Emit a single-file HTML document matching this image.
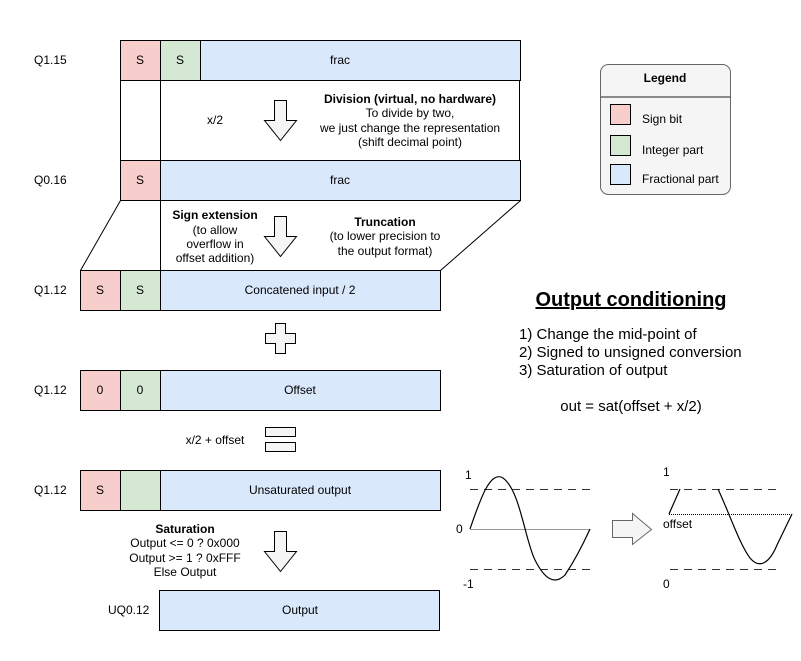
<!DOCTYPE html>
<html><head><style>body{margin:0;background:#fff}svg{display:block}text{font-family:"Liberation Sans",sans-serif;fill:#000}</style></head>
<body>
<svg width="801" height="661" viewBox="0 0 801 661" xmlns="http://www.w3.org/2000/svg" font-size="12">
<g stroke="#000" stroke-width="1">
<rect x="120.5" y="40.5" width="40" height="40" fill="#f8cecc"/>
<rect x="160.5" y="40.5" width="40" height="40" fill="#d5e8d4"/>
<rect x="200.5" y="40.5" width="320" height="40" fill="#dae8fc"/>
<path d="M120.5 80.5V160.5M160.5 80.5V160.5M519.5 80.5V160.5" fill="none"/>
<rect x="120.5" y="160.5" width="40" height="40" fill="#f8cecc"/>
<rect x="160.5" y="160.5" width="360" height="40" fill="#dae8fc"/>
<path d="M120.5 200.5L80.5 270.5M520.5 200.5L440.5 270.5M160.5 200.5V270.5" fill="none"/>
<rect x="80.5" y="270.5" width="40" height="40" fill="#f8cecc"/>
<rect x="120.5" y="270.5" width="40" height="40" fill="#d5e8d4"/>
<rect x="160.5" y="270.5" width="280" height="40" fill="#dae8fc"/>
<rect x="80.5" y="370.5" width="40" height="40" fill="#f8cecc"/>
<rect x="120.5" y="370.5" width="40" height="40" fill="#d5e8d4"/>
<rect x="160.5" y="370.5" width="280" height="40" fill="#dae8fc"/>
<rect x="80.5" y="470.5" width="40" height="40" fill="#f8cecc"/>
<rect x="120.5" y="470.5" width="40" height="40" fill="#d5e8d4"/>
<rect x="160.5" y="470.5" width="280" height="40" fill="#dae8fc"/>
<rect x="159.5" y="590.5" width="280" height="40" fill="#dae8fc"/>
<path d="M274.5 100.5H286.5V120.5H296.5L280.5 140.5L264.5 120.5H274.5Z" fill="#f5f5f5"/>
<path d="M274.5 216.5H286.5V236.5H296.5L280.5 256.5L264.5 236.5H274.5Z" fill="#f5f5f5"/>
<path d="M274.5 531.5H286.5V551.5H296.5L280.5 571.5L264.5 551.5H274.5Z" fill="#f5f5f5"/>
<path d="M275.5 323.5H285.5V333.5H295.5V343.5H285.5V353.5H275.5V343.5H265.5V333.5H275.5Z" fill="#f5f5f5"/>
<rect x="265.5" y="427.5" width="30" height="9" fill="#f5f5f5"/>
<rect x="265.5" y="442.5" width="30" height="9" fill="#f5f5f5"/>
<path d="M612.5 520.5H632.5V513.5L651.5 529.5L632.5 544.5V537.5H612.5Z" fill="#f5f5f5" stroke="#666"/>
<rect x="600.5" y="64.5" width="130" height="130" rx="8" fill="#f5f5f5" stroke="#666"/>
<path d="M600.5 97H730.5" stroke="#666" stroke-width="1.5"/>
<rect x="610.5" y="104.5" width="20" height="20" fill="#f8cecc"/>
<rect x="610.5" y="135.5" width="20" height="20" fill="#d5e8d4"/>
<rect x="610.5" y="164.5" width="20" height="20" fill="#dae8fc"/>
</g>
<g fill="none">
<path d="M470 529.5H590" stroke="#999"/>
<path d="M470 489.5H590M470 569.5H590" stroke="#333" stroke-dasharray="8,6"/>
<path d="M470 529 C480 500,490 470,503 478 C520 490,525 540,535 560 C545 580,555 585,565 575 C575 560,585 540,590 529" stroke="#000" stroke-width="1.2"/>
<path d="M670 489.5H780M670 569.5H780" stroke="#333" stroke-dasharray="8,6"/>
<path d="M669 514.5H790" stroke="#000" stroke-dasharray="1,1"/>
<path d="M669 514L680 489M718 489C730 515,740 545,750 558C760 570,770 562,777 545L792 514" stroke="#000" stroke-width="1.2"/>
</g>
<text x="34" y="64">Q1.15</text>
<text x="34" y="184">Q0.16</text>
<text x="34" y="294">Q1.12</text>
<text x="34" y="394">Q1.12</text>
<text x="34" y="494">Q1.12</text>
<text x="108" y="614">UQ0.12</text>
<g text-anchor="middle">
<text x="140" y="64">S</text><text x="180" y="64">S</text><text x="340" y="64">frac</text>
<text x="215" y="124">x/2</text>
<text x="410" y="103" font-weight="bold">Division (virtual, no hardware)</text>
<text x="410" y="117">To divide by two,</text>
<text x="410" y="132">we just change the representation</text>
<text x="410" y="146">(shift decimal point)</text>
<text x="140" y="184">S</text><text x="340" y="184">frac</text>
<text x="215" y="219" font-weight="bold">Sign extension</text>
<text x="215" y="234">(to allow</text>
<text x="215" y="248">overflow in</text>
<text x="215" y="262">offset addition)</text>
<text x="385" y="226" font-weight="bold">Truncation</text>
<text x="385" y="240">(to lower precision to</text>
<text x="385" y="255">the output format)</text>
<text x="100" y="294">S</text><text x="140" y="294">S</text><text x="300" y="294">Concatened input / 2</text>
<text x="100" y="394">0</text><text x="140" y="394">0</text><text x="300" y="394">Offset</text>
<text x="215" y="444">x/2 + offset</text>
<text x="100" y="494">S</text><text x="300" y="494">Unsaturated output</text>
<text x="185" y="533" font-weight="bold">Saturation</text>
<text x="185" y="547">Output &lt;= 0 ? 0x000</text>
<text x="185" y="562">Output &gt;= 1 ? 0xFFF</text>
<text x="185" y="576">Else Output</text>
<text x="300" y="614">Output</text>
<text x="665" y="82" font-weight="bold">Legend</text>
<text x="631" y="306" font-size="20" font-weight="bold" text-decoration="underline">Output conditioning</text>
<text x="631" y="411" font-size="15">out = sat(offset + x/2)</text>
</g>
<text x="642" y="123">Sign bit</text>
<text x="642" y="154">Integer part</text>
<text x="642" y="183">Fractional part</text>
<text x="519" y="339" font-size="15">1) Change the mid-point of</text>
<text x="519" y="357" font-size="15">2) Signed to unsigned conversion</text>
<text x="519" y="375" font-size="15">3) Saturation of output</text>
<text x="465" y="479">1</text>
<text x="456" y="533">0</text>
<text x="463" y="588">-1</text>
<text x="663" y="476">1</text>
<text x="663" y="528">offset</text>
<text x="663" y="588">0</text>
</svg>
</body></html>
